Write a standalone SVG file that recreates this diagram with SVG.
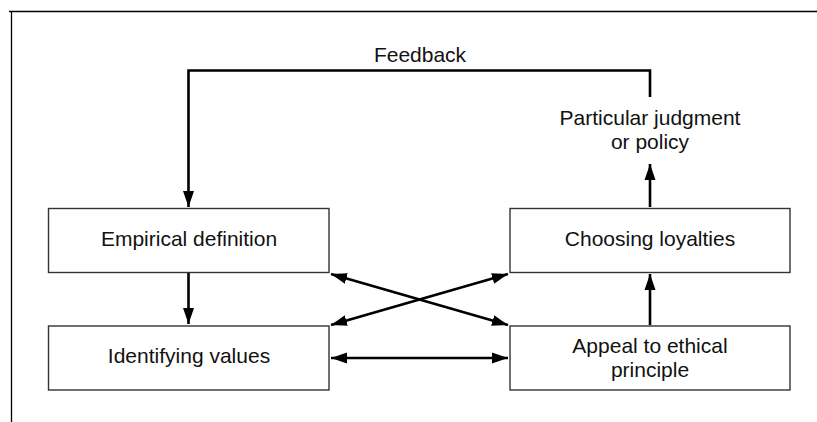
<svg xmlns="http://www.w3.org/2000/svg" width="817" height="422" viewBox="0 0 817 422">
<style>
text{font-family:"Liberation Sans",Arial,sans-serif;font-size:21px;fill:#111;text-anchor:middle}
.box{fill:#fff;stroke:#333;stroke-width:1.4}
.c{fill:none;stroke:#000;stroke-width:2.6}
.frame{fill:none;stroke:#000;stroke-width:1.3}
</style>
<defs>
<marker id="ah" markerUnits="userSpaceOnUse" markerWidth="17" markerHeight="12" refX="16" refY="6" orient="auto-start-reverse">
<path d="M0,0.5 L16,6 L0,11.5 z" fill="#000"/>
</marker>
</defs>
<path class="frame" d="M9,11.5 H817 M11.5,11 V422"/>
<g id="empirical"><rect class="box" x="48.5" y="208.5" width="280.5" height="64"/><text x="189" y="246">Empirical definition</text></g>
<g id="identifying"><rect class="box" x="48.5" y="326" width="280.5" height="64"/><text x="189" y="363">Identifying values</text></g>
<g id="choosing"><rect class="box" x="510" y="208.5" width="280" height="64"/><text x="650" y="246">Choosing loyalties</text></g>
<g id="appeal"><rect class="box" x="510" y="326" width="280" height="64"/><text x="650" y="353">Appeal to ethical</text><text x="650" y="377">principle</text></g>
<g id="particular"><text x="650" y="125">Particular judgment</text><text x="650" y="149">or policy</text></g>
<g id="feedback-label"><text x="420" y="62">Feedback</text></g>
<g id="connectors">
<path class="c" d="M650,97 V70.5 H188.5 V207" marker-end="url(#ah)"/>
<path class="c" d="M188.5,273 V324" marker-end="url(#ah)"/>
<path class="c" d="M650,207 V164" marker-end="url(#ah)"/>
<path class="c" d="M650,325 V274" marker-end="url(#ah)"/>
<path class="c" d="M331,274 L508,325" marker-start="url(#ah)" marker-end="url(#ah)"/>
<path class="c" d="M331,325 L508,274" marker-start="url(#ah)" marker-end="url(#ah)"/>
<path class="c" d="M331,358 H508" marker-start="url(#ah)" marker-end="url(#ah)"/>
</g>
</svg>
